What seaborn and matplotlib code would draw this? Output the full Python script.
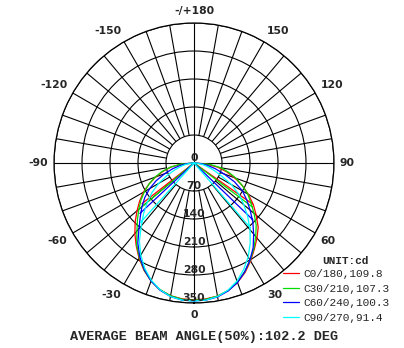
import numpy as np
import matplotlib
matplotlib.use('Agg')
import matplotlib.pyplot as plt
from matplotlib.lines import Line2D
import seaborn as sns

GAMMA = [0, 5, 10, 15, 20, 25, 30, 35, 40, 45, 50, 55, 60, 65, 70, 75, 80, 85, 90]

# intensity in cd, right half (positive angles) and left half (negative angles)
C0_R = [342, 341, 338, 330, 318, 302, 283, 263, 245, 227, 203, 181, 157, 133, 108, 84, 60, 32, 0]
C0_L = [342, 341, 337, 328, 314, 296, 275, 252, 230, 208, 186, 166, 146, 124, 102, 80, 58, 32, 0]
C30_R = [343, 342, 338, 330, 317, 300, 281, 261, 240, 220, 196, 174, 155, 133, 112, 90, 68, 40, 0]
C30_L = [343, 342, 337, 328, 314, 295, 273, 250, 222, 200, 180, 162, 143, 124, 104, 83, 60, 34, 0]
C60_R = [345, 344, 340, 331, 318, 300, 280, 258, 232, 208, 183, 161, 140, 112, 80, 55, 35, 18, 0]
C60_L = [345, 344, 339, 329, 314, 294, 271, 245, 214, 190, 170, 150, 128, 104, 78, 55, 35, 18, 0]
C90_R = [345, 344, 339, 329, 314, 294, 271, 245, 218, 190, 163, 138, 108, 75, 52, 35, 22, 10, 0]
C90_L = [345, 344, 339, 328, 312, 291, 266, 238, 205, 178, 152, 128, 102, 75, 52, 35, 22, 10, 0]

# straight return strokes to the centre: (angle, cd) on each side
CHORD_L = [(-52, 165), (-50, 175), (-47, 185), (-42, 200)]
CHORD_R = [(55, 178), (53, 182), (46, 205), (41, 215)]

LABELS = ['C0/180,109.8', 'C30/210,107.3', 'C60/240,100.3', 'C90/270,91.4']
COLORS = ['#ff0000', '#00dd00', '#0000ff', '#00ffff']

RINGS = [70, 140, 210, 280, 350]
RING_LABELS = ['0', '70', '140', '210', '280', '350']
THETA_TICKS = [0, 30, 60, 90, 120, 150, 180, -150, -120, -90, -60, -30]
THETA_LABELS = ['0', '30', '60', '90', '120', '150', '-/+180', '-150', '-120', '-90', '-60', '-30']
TITLE = 'AVERAGE BEAM ANGLE(50%):102.2 DEG'


def curve_points(left, right, chord_l, chord_r):
    ang = [chord_l[0], chord_l[0]] + [-g for g in GAMMA[::-1]] + GAMMA[1:] + [chord_r[0], chord_r[0]]
    val = [chord_l[1], 0] + left[::-1] + right[1:] + [0, chord_r[1]]
    return np.deg2rad(ang), np.array(val)


def main():
    sns.set_style('white')
    plt.rcParams['font.family'] = ['DejaVu Sans']

    fig = plt.figure(figsize=(4.04, 3.48), dpi=100)
    ax = fig.add_axes([0.1337, 0.1293, 0.693, 0.8046], projection='polar')
    ax.set_theta_zero_location('S')
    ax.set_theta_direction(1)

    # spokes every 10 deg start at the first ring, the two axes go through the centre
    spokes = [a for a in range(0, 360, 10) if a % 90 != 0]
    ax.vlines(np.deg2rad(spokes), 70, 350, color='black', lw=0.8, zorder=1)
    ax.vlines(np.deg2rad([0, 90, 180, 270]), 0, 350, color='black', lw=0.8, zorder=1)

    curves = [(C0_L, C0_R), (C30_L, C30_R), (C60_L, C60_R), (C90_L, C90_R)]
    for i, (left, right) in enumerate(curves):
        th, r = curve_points(left, right, CHORD_L[i], CHORD_R[i])
        sns.lineplot(x=th, y=r, ax=ax, sort=False, estimator=None,
                     color=COLORS[i], lw=0.9, legend=False, zorder=3)

    ax.set_ylim(0, 350)
    ax.set_yticks(RINGS)
    ax.set_yticklabels([])
    ax.set_xticks([])
    ax.set_xlabel('')
    ax.set_ylabel('')
    ax.yaxis.grid(True, color='black', lw=0.8)
    ax.xaxis.grid(False)
    ax.spines['polar'].set_color('black')
    ax.spines['polar'].set_linewidth(0.9)

    lab_font = dict(family='DejaVu Sans', fontsize=7.8, fontweight='bold')
    for a, lab in zip(THETA_TICKS, THETA_LABELS):
        s, u = np.sin(np.deg2rad(a)), -np.cos(np.deg2rad(a))
        ha = 'left' if s > 0.1 else ('right' if s < -0.1 else 'center')
        va = 'bottom' if u > 0.1 else ('top' if u < -0.1 else 'center')
        ax.annotate(lab, (np.deg2rad(a), 350), xytext=(6 * s, 7 * u),
                    textcoords='offset pixels', ha=ha, va=va,
                    annotation_clip=False, **lab_font)

    for r, lab in zip([0] + RINGS, RING_LABELS):
        ax.annotate(lab, (0, r), xytext=(0, 0), textcoords='offset pixels',
                    ha='center', va='bottom', zorder=4, **lab_font)

    handles = [Line2D([], [], color=c, lw=0.9) for c in COLORS]
    fig.legend(handles, LABELS, loc='upper left', bbox_to_anchor=(283 / 404, 1 - 269 / 348),
               frameon=False, borderpad=0, borderaxespad=0, handlelength=1.45,
               handletextpad=0.35, labelspacing=0.42,
               prop={'family': 'Liberation Mono', 'size': 8})
    fig.text(345 / 404, 1 - 261 / 348, 'UNIT:cd', ha='center', va='center',
             family='Liberation Mono', fontsize=8, fontweight='bold')
    fig.text(204 / 404, 1 - 337 / 348, TITLE, ha='center', va='center',
             family='Liberation Mono', fontsize=9.7, fontweight='bold')

    fig.savefig('out.png', dpi=100, facecolor='white')


if __name__ == '__main__':
    main()
